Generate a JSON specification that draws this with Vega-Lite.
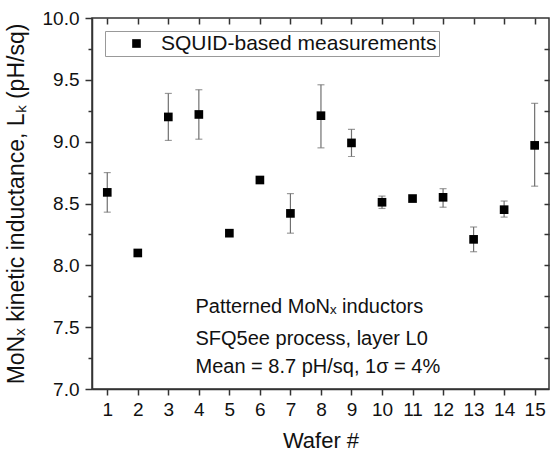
{
  "$schema": "https://vega.github.io/schema/vega-lite/v6.json",
  "autosize": "none",
  "width": 457,
  "height": 371,
  "padding": {"left": 92, "top": 18, "right": 1, "bottom": 67},
  "background": "white",
  "config": {
    "font": "Liberation Sans",
    "view": {"stroke": "#333", "strokeWidth": 1.5},
    "axis": {"domainColor": "#333", "domainWidth": 1.5, "tickColor": "#333", "tickWidth": 1.5, "labelColor": "#111", "titleColor": "#111", "grid": false, "labelFont": "Liberation Sans", "titleFont": "Liberation Sans", "titleFontWeight": "normal"}
  },
  "datasets": {
    "pts": [
      {"wafer": 1, "Lk": 8.59, "lo": 8.43, "hi": 8.75, "series": "SQUID-based measurements"},
      {"wafer": 2, "Lk": 8.10, "series": "SQUID-based measurements"},
      {"wafer": 3, "Lk": 9.20, "lo": 9.01, "hi": 9.39, "series": "SQUID-based measurements"},
      {"wafer": 4, "Lk": 9.22, "lo": 9.02, "hi": 9.42, "series": "SQUID-based measurements"},
      {"wafer": 5, "Lk": 8.26, "series": "SQUID-based measurements"},
      {"wafer": 6, "Lk": 8.69, "series": "SQUID-based measurements"},
      {"wafer": 7, "Lk": 8.42, "lo": 8.26, "hi": 8.58, "series": "SQUID-based measurements"},
      {"wafer": 8, "Lk": 9.21, "lo": 8.95, "hi": 9.46, "series": "SQUID-based measurements"},
      {"wafer": 9, "Lk": 8.99, "lo": 8.88, "hi": 9.10, "series": "SQUID-based measurements"},
      {"wafer": 10, "Lk": 8.51, "lo": 8.46, "hi": 8.56, "series": "SQUID-based measurements"},
      {"wafer": 11, "Lk": 8.54, "series": "SQUID-based measurements"},
      {"wafer": 12, "Lk": 8.55, "lo": 8.47, "hi": 8.62, "series": "SQUID-based measurements"},
      {"wafer": 13, "Lk": 8.21, "lo": 8.11, "hi": 8.31, "series": "SQUID-based measurements"},
      {"wafer": 14, "Lk": 8.45, "lo": 8.39, "hi": 8.52, "series": "SQUID-based measurements"},
      {"wafer": 15, "Lk": 8.97, "lo": 8.64, "hi": 9.31, "series": "SQUID-based measurements"}
    ],
    "notes": [
      {"wafer": 3.89, "Lk": 7.615, "text": "Patterned MoNₓ inductors"},
      {"wafer": 3.89, "Lk": 7.353, "text": "SFQ5ee process, layer L0"},
      {"wafer": 3.89, "Lk": 7.13, "text": "Mean = 8.7 pH/sq, 1σ = 4%"}
    ]
  },
  "layer": [
    {
      "data": {"name": "pts"},
      "transform": [{"filter": "isValid(datum.lo)"}],
      "mark": {"type": "rule", "color": "#707070", "strokeWidth": 1.2},
      "encoding": {
        "x": {"field": "wafer", "type": "quantitative",
              "scale": {"domain": [0.5, 15.47], "nice": false, "zero": false},
              "axis": {"orient": "bottom", "values": [1,2,3,4,5,6,7,8,9,10,11,12,13,14,15], "tickSize": 6, "labelFontSize": 19, "labelPadding": 5, "title": "Wafer #", "titleFontSize": 22, "titlePadding": 11}},
        "y": {"field": "lo", "type": "quantitative",
              "scale": {"domain": [7, 10], "nice": false, "zero": false},
              "axis": {"orient": "left", "values": [7,7.25,7.5,7.75,8,8.25,8.5,8.75,9,9.25,9.5,9.75,10],
                       "tickSize": {"condition": {"test": "datum.value % 0.5 === 0", "value": 7}, "value": 4},
                       "labelExpr": "datum.value % 0.5 === 0 ? format(datum.value, '.1f') : ''",
                       "labelFontSize": 19, "labelPadding": 6,
                       "title": "MoNₓ kinetic inductance, Lₖ (pH/sq)", "titleFontSize": 23, "titlePadding": 14}},
        "y2": {"field": "hi"}
      }
    },
    {
      "data": {"name": "pts"},
      "transform": [{"filter": "isValid(datum.lo)"}],
      "mark": {"type": "tick", "orient": "horizontal", "color": "#707070", "size": 7, "thickness": 1.2},
      "encoding": {
        "x": {"field": "wafer", "type": "quantitative",
              "axis": {"orient": "top", "values": [1,2,3,4,5,6,7,8,9,10,11,12,13,14,15], "offset": -6, "tickSize": 6, "domain": false, "labels": false, "title": null}},
        "y": {"field": "hi", "type": "quantitative",
              "axis": {"orient": "right", "values": [7.25,7.5,7.75,8,8.25,8.5,8.75,9,9.25,9.5,9.75], "offset": -5, "tickSize": 5, "domain": false,
                       "labels": false, "title": null}}
      }
    },
    {
      "data": {"name": "pts"},
      "transform": [{"filter": "isValid(datum.lo)"}],
      "mark": {"type": "tick", "orient": "horizontal", "color": "#707070", "size": 7, "thickness": 1.2},
      "encoding": {
        "x": {"field": "wafer", "type": "quantitative", "axis": null},
        "y": {"field": "lo", "type": "quantitative", "axis": null}
      }
    },
    {
      "data": {"name": "pts"},
      "mark": {"type": "point", "filled": true, "color": "black", "size": 75, "opacity": 1},
      "encoding": {
        "x": {"field": "wafer", "type": "quantitative", "axis": null},
        "y": {"field": "Lk", "type": "quantitative", "axis": null},
        "shape": {"field": "series", "type": "nominal",
                  "scale": {"range": ["square"]},
                  "legend": {"title": null, "orient": "none", "legendX": 13, "legendY": 13,
                             "strokeColor": "#999", "fillColor": "white", "padding": 2,
                             "symbolOffset": 19, "labelOffset": 14, "labelFontSize": 21, "labelLimit": 500,
                             "labelFont": "Liberation Sans", "labelColor": "#111",
                             "symbolSize": 75, "symbolFillColor": "black", "symbolStrokeColor": "black"}}
      }
    },
    {
      "data": {"name": "notes"},
      "mark": {"type": "text", "align": "left", "baseline": "alphabetic", "fontSize": 20, "font": "Liberation Sans", "color": "#111"},
      "encoding": {
        "x": {"field": "wafer", "type": "quantitative", "axis": null},
        "y": {"field": "Lk", "type": "quantitative", "axis": null},
        "text": {"field": "text"}
      }
    }
  ],
  "resolve": {"axis": {"x": "independent", "y": "independent"}}
}
